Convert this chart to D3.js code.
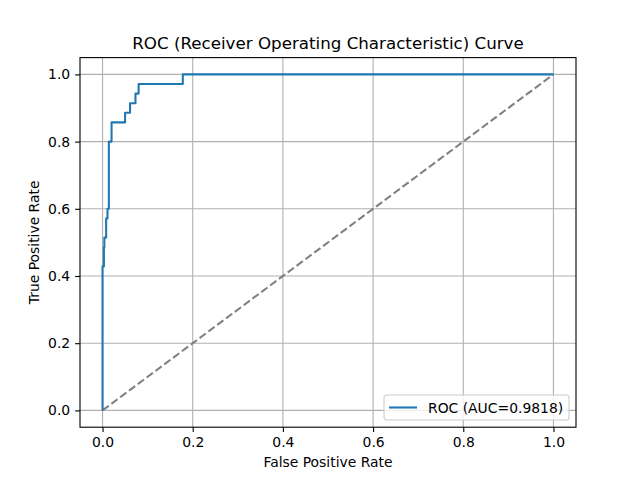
<!DOCTYPE html>
<html>
<head>
<meta charset="utf-8">
<script src="https://cdn.jsdelivr.net/npm/d3@7"></script>
<style>
  body { margin: 0; background: #fff; }
  text { font-family: "DejaVu Sans", sans-serif; fill: #000; }
</style>
</head>
<body>
<div id="chart"></div>
<script>
// ROC curve corner points
var fpr = [0, 0, 0.003, 0.003, 0.004, 0.004, 0.008, 0.008, 0.011, 0.011, 0.014, 0.014,
           0.020, 0.020, 0.050, 0.050, 0.061, 0.061, 0.073, 0.073, 0.080, 0.080, 0.178, 0.178, 1.0];
var tpr = [0, 0.4286, 0.4286, 0.4857, 0.4857, 0.5143, 0.5143, 0.5714, 0.5714, 0.6, 0.6, 0.8,
           0.8, 0.8571, 0.8571, 0.8857, 0.8857, 0.9143, 0.9143, 0.9429, 0.9429, 0.9714, 0.9714, 1.0, 1.0];
var chanceLine = [0, 1];
var tickValues = [0, 0.2, 0.4, 0.6, 0.8, 1.0];
var aucLabel = "ROC (AUC=0.9818)";

window.onload = function() {
  var width = 640, height = 480;
  var margin = {top: 57.6, right: 64, bottom: 52.8, left: 80};

  var svg = d3.select("#chart").append("svg")
    .attr("width", width)
    .attr("height", height);

  var x = d3.scaleLinear().domain([-0.05, 1.05]).range([margin.left, width - margin.right]);
  var y = d3.scaleLinear().domain([-0.05, 1.05]).range([height - margin.bottom, margin.top]);

  // Grid
  var grid = svg.append("g");
  grid.selectAll(".gx").data(tickValues).enter().append("line")
    .attr("x1", function(d) { return x(d); }).attr("x2", function(d) { return x(d); })
    .attr("y1", y.range()[0]).attr("y2", y.range()[1])
    .attr("stroke", "#b0b0b0").attr("stroke-width", 1.1);
  grid.selectAll(".gy").data(tickValues).enter().append("line")
    .attr("y1", function(d) { return y(d); }).attr("y2", function(d) { return y(d); })
    .attr("x1", x.range()[0]).attr("x2", x.range()[1])
    .attr("stroke", "#b0b0b0").attr("stroke-width", 1.1);

  // Chance diagonal
  var pts = chanceLine.map(function(d) { return [d, d]; });
  svg.append("path")
    .datum(pts)
    .attr("d", d3.line().x(function(d) { return x(d[0]); }).y(function(d) { return y(d[1]); }))
    .attr("fill", "none")
    .attr("stroke", "#808080")
    .attr("stroke-width", 2.08)
    .attr("stroke-dasharray", "7.7,3.3");

  // ROC curve
  var roc = fpr.map(function(d, i) { return [d, tpr[i]]; });
  svg.append("path")
    .datum(roc)
    .attr("d", d3.line().x(function(d) { return x(d[0]); }).y(function(d) { return y(d[1]); }))
    .attr("fill", "none")
    .attr("stroke", "#1f77b4")
    .attr("stroke-width", 2.08)
    .attr("stroke-linejoin", "round");

  // Axes
  var fmt = d3.format(".1f");
  var xAxis = svg.append("g")
    .attr("transform", "translate(0," + y.range()[0] + ")")
    .call(d3.axisBottom(x).tickValues(tickValues).tickFormat(fmt).tickSize(4.9).tickPadding(4.9));
  var yAxis = svg.append("g")
    .attr("transform", "translate(" + x.range()[0] + ",0)")
    .call(d3.axisLeft(y).tickValues(tickValues).tickFormat(fmt).tickSize(4.9).tickPadding(4.9));
  [xAxis, yAxis].forEach(function(a) {
    a.select(".domain").remove();
    a.selectAll(".tick line").attr("stroke", "#000").attr("stroke-width", 1.1);
    a.selectAll(".tick text").style("font-family", "DejaVu Sans").style("font-size", "13.9px").attr("fill", "#000");
  });

  // Frame
  svg.append("rect")
    .attr("x", x.range()[0]).attr("y", y.range()[1])
    .attr("width", x.range()[1] - x.range()[0])
    .attr("height", y.range()[0] - y.range()[1])
    .attr("fill", "none").attr("stroke", "#000").attr("stroke-width", 1.1);

  // Title and labels
  svg.append("text")
    .attr("x", (x.range()[0] + x.range()[1]) / 2).attr("y", 49)
    .attr("text-anchor", "middle").style("font-size", "16.7px")
    .text("ROC (Receiver Operating Characteristic) Curve");
  svg.append("text")
    .attr("x", (x.range()[0] + x.range()[1]) / 2).attr("y", 467)
    .attr("text-anchor", "middle").style("font-size", "13.9px")
    .text("False Positive Rate");
  svg.append("text")
    .attr("transform", "translate(39," + ((y.range()[0] + y.range()[1]) / 2) + ") rotate(-90)")
    .attr("text-anchor", "middle").style("font-size", "13.9px")
    .text("True Positive Rate");

  // Legend
  var legend = svg.append("g").attr("transform", "translate(384,395)");
  legend.append("rect")
    .attr("width", 185).attr("height", 25).attr("rx", 2.8)
    .attr("fill", "#fff").attr("fill-opacity", 0.8)
    .attr("stroke", "#cccccc").attr("stroke-width", 1.1);
  legend.append("line")
    .attr("x1", 5).attr("x2", 33).attr("y1", 12.5).attr("y2", 12.5)
    .attr("stroke", "#1f77b4").attr("stroke-width", 2.08);
  legend.append("text")
    .attr("x", 44).attr("y", 17.5).style("font-size", "13.9px")
    .text(aucLabel);
};
</script>
</body>
</html>
